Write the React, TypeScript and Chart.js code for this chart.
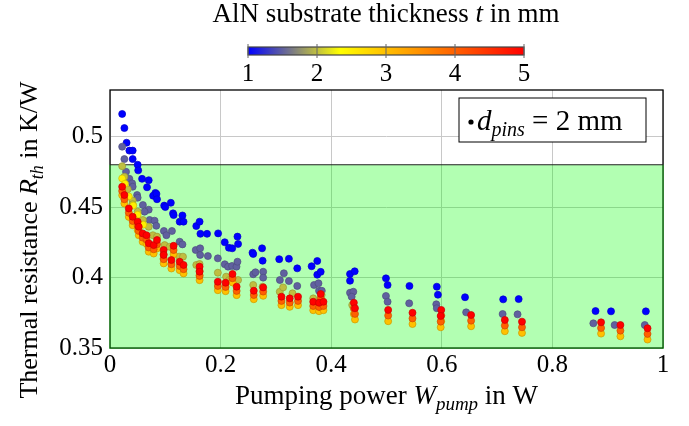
import React, { useEffect, useRef } from "react";
import { Chart, registerables } from "chart.js";

Chart.register(...registerables);

// ---- data: [pumping power W, thermal resistance K/W] per substrate thickness t ----
const thicknessValues = [1, 1.5, 2, 2.5, 3, 4, 5];

const t1Points = [
  [0.022, 0.516], [0.026, 0.506], [0.03, 0.4956], [0.035, 0.49], [0.041, 0.49], [0.041, 0.484],
  [0.05, 0.48], [0.051, 0.476], [0.058, 0.47], [0.07, 0.469], [0.067, 0.464], [0.082, 0.46],
  [0.078, 0.458], [0.084, 0.4593], [0.085, 0.4555], [0.098, 0.451], [0.1, 0.45], [0.11, 0.453],
  [0.114, 0.4455], [0.115, 0.4443], [0.126, 0.4396], [0.133, 0.4396], [0.131, 0.444], [0.156, 0.4365],
  [0.162, 0.4396], [0.1635, 0.431], [0.1755, 0.431], [0.1955, 0.4313], [0.2075, 0.425], [0.215, 0.4211],
  [0.221, 0.4207], [0.2305, 0.429], [0.2316, 0.4238], [0.2577, 0.4176], [0.259, 0.4167], [0.275, 0.4207],
  [0.276, 0.4119], [0.306, 0.413], [0.3235, 0.4133], [0.3386, 0.4065], [0.3646, 0.408], [0.3748, 0.4117],
  [0.3748, 0.402], [0.381, 0.404], [0.434, 0.4025], [0.4425, 0.4044], [0.434, 0.3977], [0.499, 0.3994],
  [0.502, 0.3947], [0.5415, 0.394], [0.591, 0.3935], [0.593, 0.3878], [0.642, 0.386], [0.711, 0.3845],
  [0.739, 0.3847], [0.878, 0.3762], [0.906, 0.376], [0.969, 0.376],
];

const t15Points = [
  [0.022, 0.4928], [0.026, 0.484], [0.029, 0.475], [0.035, 0.47], [0.04, 0.4668], [0.041, 0.4644],
  [0.049, 0.4585], [0.05, 0.4566], [0.0595, 0.4514], [0.07, 0.4481], [0.0625, 0.4467], [0.0716, 0.4408],
  [0.0806, 0.4403], [0.0837, 0.4367], [0.0975, 0.433], [0.102, 0.43], [0.112, 0.433], [0.126, 0.4254],
  [0.131, 0.4235], [0.155, 0.4195], [0.163, 0.4207], [0.163, 0.416], [0.177, 0.4152], [0.195, 0.4136],
  [0.2075, 0.4094], [0.2135, 0.4077], [0.2207, 0.4082], [0.2287, 0.4077], [0.2305, 0.4112], [0.259, 0.4023],
  [0.263, 0.4037], [0.277, 0.4041], [0.277, 0.3999], [0.3072, 0.3982], [0.3144, 0.403], [0.3235, 0.3975],
  [0.3386, 0.394], [0.369, 0.3947], [0.377, 0.3959], [0.378, 0.3906], [0.383, 0.3906], [0.434, 0.3892],
  [0.44, 0.3899], [0.437, 0.3864], [0.499, 0.3869], [0.502, 0.3828], [0.541, 0.3817], [0.59, 0.381],
  [0.591, 0.3782], [0.644, 0.3753], [0.71, 0.3741], [0.737, 0.3739], [0.874, 0.3675], [0.9125, 0.3663],
  [0.967, 0.3663],
];

const t2Points = [
  [0.022, 0.479], [0.026, 0.4715], [0.032, 0.4626], [0.041, 0.4545], [0.041, 0.452], [0.05, 0.4467],
  [0.0595, 0.4408], [0.07, 0.436], [0.0776, 0.43], [0.085, 0.429], [0.0988, 0.423], [0.108, 0.4218],
  [0.125, 0.4148], [0.132, 0.4148], [0.156, 0.4089], [0.162, 0.4096], [0.195, 0.4034], [0.21, 0.4006],
  [0.2156, 0.3982], [0.2316, 0.3982], [0.259, 0.3947], [0.276, 0.3935], [0.307, 0.3899], [0.313, 0.393],
  [0.33, 0.3888], [0.3675, 0.3852], [0.3827, 0.3876], [0.438, 0.3805],
];

const t25Points = [
  [0.022, 0.4703], [0.027, 0.4665], [0.034, 0.4575], [0.042, 0.451], [0.05, 0.4445], [0.06, 0.4375],
];

const t3Points = [
  [0.022, 0.4584], [0.026, 0.4525], [0.034, 0.443], [0.041, 0.4371], [0.05, 0.4336], [0.052, 0.43],
  [0.059, 0.4253], [0.066, 0.424], [0.07, 0.4183], [0.079, 0.417], [0.085, 0.4206], [0.097, 0.4135],
  [0.097, 0.41], [0.115, 0.4165], [0.111, 0.4064], [0.126, 0.4052], [0.133, 0.4029], [0.162, 0.4017],
  [0.162, 0.3981], [0.195, 0.391], [0.209, 0.3903], [0.2215, 0.3965], [0.229, 0.3875], [0.26, 0.3846],
  [0.277, 0.387], [0.31, 0.3804], [0.325, 0.3792], [0.34, 0.3804], [0.3675, 0.3768], [0.381, 0.3823],
  [0.378, 0.3761], [0.386, 0.3768], [0.441, 0.3741], [0.443, 0.3702], [0.503, 0.369], [0.547, 0.367],
  [0.599, 0.369], [0.598, 0.3647], [0.653, 0.3654], [0.714, 0.3619], [0.745, 0.3607], [0.888, 0.3602],
  [0.923, 0.3583], [0.972, 0.356],
];

const t4Points = [
  [0.022, 0.4614], [0.026, 0.4555], [0.034, 0.446], [0.041, 0.4401], [0.05, 0.4366], [0.052, 0.433],
  [0.059, 0.4283], [0.066, 0.427], [0.07, 0.4213], [0.079, 0.42], [0.085, 0.4236], [0.097, 0.4165],
  [0.097, 0.413], [0.115, 0.4195], [0.111, 0.4094], [0.126, 0.4082], [0.133, 0.4059], [0.162, 0.4047],
  [0.162, 0.4011], [0.195, 0.394], [0.209, 0.3933], [0.2215, 0.3995], [0.229, 0.3905], [0.26, 0.3876],
  [0.277, 0.39], [0.31, 0.3834], [0.325, 0.3822], [0.34, 0.3834], [0.3675, 0.3798], [0.381, 0.3853],
  [0.378, 0.3791], [0.386, 0.3798], [0.441, 0.3781], [0.443, 0.3742], [0.503, 0.373], [0.547, 0.371],
  [0.599, 0.373], [0.598, 0.3687], [0.653, 0.3694], [0.714, 0.3659], [0.745, 0.3647], [0.888, 0.3642],
  [0.923, 0.3623], [0.972, 0.36],
];

const t5Points = [
  [0.022, 0.4644], [0.026, 0.4585], [0.034, 0.449], [0.041, 0.4431], [0.05, 0.4396], [0.052, 0.436],
  [0.059, 0.4313], [0.066, 0.43], [0.07, 0.4243], [0.079, 0.423], [0.085, 0.4266], [0.097, 0.4195],
  [0.097, 0.416], [0.115, 0.4225], [0.111, 0.4124], [0.126, 0.4112], [0.133, 0.4089], [0.162, 0.4077],
  [0.162, 0.4041], [0.195, 0.397], [0.209, 0.3963], [0.2215, 0.4025], [0.229, 0.3935], [0.26, 0.3906],
  [0.277, 0.393], [0.31, 0.3864], [0.325, 0.3852], [0.34, 0.3864], [0.3675, 0.3828], [0.381, 0.3883],
  [0.378, 0.3821], [0.386, 0.3828], [0.441, 0.3821], [0.443, 0.3782], [0.503, 0.377], [0.547, 0.375],
  [0.599, 0.377], [0.598, 0.3727], [0.653, 0.3734], [0.714, 0.3699], [0.745, 0.3687], [0.888, 0.3682],
  [0.923, 0.3663], [0.972, 0.364],
];

const seriesPoints = [t1Points, t15Points, t2Points, t25Points, t3Points, t4Points, t5Points];

const xTickValues = [0, 0.2, 0.4, 0.6, 0.8, 1];
const xTickLabels = ["0", "0.2", "0.4", "0.6", "0.8", "1"];
const yTickValues = [0.35, 0.4, 0.45, 0.5];
const yTickLabels = ["0.35", "0.4", "0.45", "0.5"];
const colorbarTicks = [1, 2, 3, 4, 5];
const thresholdR = 0.48;

// ---- styling ----
const FONT = '"Liberation Serif", "Times New Roman", serif';
const FS = 24;
const TITLE_FS = 27;
const T_MIN = 1;
const T_MAX = 5;
const cmapStops: [number, number[]][] = [
  [0, [0, 0, 255]],
  [1 / 3, [255, 255, 0]],
  [2 / 3, [255, 128, 0]],
  [1, [255, 0, 0]],
];

function cmap(t: number, dark = 1): string {
  const f = Math.min(1, Math.max(0, (t - T_MIN) / (T_MAX - T_MIN)));
  let i = 0;
  while (i < cmapStops.length - 2 && f > cmapStops[i + 1][0]) i++;
  const [f0, c0] = cmapStops[i];
  const [f1, c1] = cmapStops[i + 1];
  const u = (f - f0) / (f1 - f0);
  const c = c0.map((v, k) => Math.round((v + (c1[k] - v) * u) * dark));
  return `rgb(${c[0]},${c[1]},${c[2]})`;
}

type Part = { text: string; italic?: boolean; sub?: boolean };

function drawRich(ctx: CanvasRenderingContext2D, parts: Part[], x: number, y: number, align: "left" | "center" | "right", size: number) {
  const fontFor = (p: Part) => `${p.italic ? "italic " : ""}${p.sub ? Math.round(size * 0.7) : size}px ${FONT}`;
  let total = 0;
  const widths = parts.map((p) => {
    ctx.font = fontFor(p);
    const w = ctx.measureText(p.text).width;
    total += w;
    return w;
  });
  let cx = align === "center" ? x - total / 2 : align === "right" ? x - total : x;
  ctx.textAlign = "left";
  ctx.textBaseline = "alphabetic";
  parts.forEach((p, i) => {
    ctx.font = fontFor(p);
    ctx.fillText(p.text, cx, y + (p.sub ? size * 0.22 : 0));
    cx += widths[i];
  });
  return total;
}

const backgroundPlugin = {
  id: "bgRegion",
  beforeDatasetsDraw(chart: any) {
    const { ctx, chartArea } = chart;
    const ys = chart.scales.y;
    const { left, right, top, bottom } = chartArea;
    ctx.save();
    ctx.strokeStyle = "#000";
    ctx.lineWidth = 1.3;
    ctx.strokeRect(left, top, right - left, bottom - top);
    const yT = ys.getPixelForValue(thresholdR);
    ctx.fillStyle = "rgba(0,255,0,0.3)";
    ctx.fillRect(left - 1, yT, right - left + 2, bottom - yT + 1);
    ctx.strokeStyle = "#222";
    ctx.lineWidth = 1.1;
    ctx.beginPath();
    ctx.moveTo(left, yT);
    ctx.lineTo(right, yT);
    ctx.stroke();
    ctx.restore();
  },
};

const annotationPlugin = {
  id: "annotations",
  afterDraw(chart: any) {
    const { ctx, chartArea } = chart;
    const { left, right } = chartArea;
    ctx.save();
    ctx.fillStyle = "#000";

    // colorbar
    const cbL = 248, cbR = 524, cbT = 47, cbB = 55;
    const grad = ctx.createLinearGradient(cbL, 0, cbR, 0);
    cmapStops.forEach(([f, c]) => grad.addColorStop(f, `rgb(${c[0]},${c[1]},${c[2]})`));
    ctx.fillStyle = grad;
    ctx.fillRect(cbL, cbT, cbR - cbL, cbB - cbT);
    ctx.strokeStyle = "#444";
    ctx.lineWidth = 1.2;
    ctx.strokeRect(cbL, cbT, cbR - cbL, cbB - cbT);
    ctx.strokeStyle = "#666";
    ctx.lineWidth = 1;
    colorbarTicks.forEach((t) => {
      const x = cbL + ((t - T_MIN) / (T_MAX - T_MIN)) * (cbR - cbL);
      ctx.beginPath();
      ctx.moveTo(x, cbT - 3);
      ctx.lineTo(x, cbB + 3);
      ctx.stroke();
    });
    ctx.fillStyle = "#000";
    ctx.font = `25px ${FONT}`;
    ctx.textAlign = "center";
    ctx.textBaseline = "alphabetic";
    colorbarTicks.forEach((t) => {
      const x = cbL + ((t - T_MIN) / (T_MAX - T_MIN)) * (cbR - cbL);
      ctx.fillText(String(t), x, 81);
    });
    drawRich(ctx, [
      { text: "AlN substrate thickness " },
      { text: "t", italic: true },
      { text: " in mm" },
    ], (cbL + cbR) / 2, 22, "center", TITLE_FS);

    // legend box
    const lx = 459, ly = 98, lw = 187, lh = 44;
    ctx.fillStyle = "#fff";
    ctx.fillRect(lx, ly, lw, lh);
    ctx.strokeStyle = "#000";
    ctx.lineWidth = 1;
    ctx.strokeRect(lx, ly, lw, lh);
    ctx.fillStyle = "#000";
    ctx.beginPath();
    ctx.arc(471, 122, 2.6, 0, Math.PI * 2);
    ctx.fill();
    drawRich(ctx, [
      { text: "d", italic: true },
      { text: "pins", italic: true, sub: true },
      { text: " = 2 mm" },
    ], 477, 130, "left", 29);

    // x-axis title
    drawRich(ctx, [
      { text: "Pumping power " },
      { text: "W", italic: true },
      { text: "pump", italic: true, sub: true },
      { text: " in W" },
    ], (left + right) / 2, 404, "center", TITLE_FS);

    // y-axis title
    ctx.translate(37, 240);
    ctx.rotate(-Math.PI / 2);
    drawRich(ctx, [
      { text: "Thermal resistance " },
      { text: "R", italic: true },
      { text: "th", italic: true, sub: true },
      { text: " in K/W" },
    ], 0, 0, "center", 26);
    ctx.restore();
  },
};

export default function App() {
  const canvasRef = useRef<HTMLCanvasElement | null>(null);

  useEffect(() => {
    document.body.style.margin = "0";
    const canvas = canvasRef.current;
    if (!canvas) return;
    const datasets = seriesPoints.map((pts, i) => ({
      label: `t = ${thicknessValues[i]} mm`,
      data: pts.map(([x, y]) => ({ x, y })),
      backgroundColor: cmap(thicknessValues[i]),
      borderColor: cmap(thicknessValues[i], 0.8),
      borderWidth: 0.7,
      pointRadius: 3.5,
      pointHoverRadius: 3.5,
    })).reverse();

    const chart = new Chart(canvas, {
      type: "scatter",
      data: { datasets },
      options: {
        animation: false,
        responsive: false,
        devicePixelRatio: 1,
        layout: { padding: { top: 90, right: 26, left: 0, bottom: 0 } },
        plugins: { legend: { display: false }, tooltip: { enabled: false } },
        scales: {
          x: {
            type: "linear",
            min: 0,
            max: 1,
            afterBuildTicks: (scale: any) => {
              scale.ticks = xTickValues.map((v) => ({ value: v }));
            },
            afterFit: (scale: any) => {
              scale.height = 78;
            },
            ticks: {
              callback: (v: any) => {
                const i = xTickValues.findIndex((t) => Math.abs(t - Number(v)) < 1e-9);
                return i >= 0 ? xTickLabels[i] : "";
              },
              font: { family: FONT, size: FS + 1 },
              color: "#000",
              padding: 2,
              maxRotation: 0,
            },
            grid: { color: "#c8c8c8", lineWidth: 1, drawTicks: false },
            border: { display: false },
          },
          y: {
            type: "linear",
            min: 0.35,
            max: 0.533,
            afterBuildTicks: (scale: any) => {
              scale.ticks = yTickValues.map((v) => ({ value: v }));
            },
            afterFit: (scale: any) => {
              scale.width = 110;
            },
            ticks: {
              callback: (v: any) => {
                const i = yTickValues.findIndex((t) => Math.abs(t - Number(v)) < 1e-9);
                return i >= 0 ? yTickLabels[i] : "";
              },
              font: { family: FONT, size: FS + 1 },
              color: "#000",
              padding: 7,
            },
            grid: { color: "#c8c8c8", lineWidth: 1, drawTicks: false },
            border: { display: false },
          },
        },
      },
      plugins: [backgroundPlugin, annotationPlugin],
    } as any);
    return () => chart.destroy();
  }, []);

  return (
    <div style={{ position: "fixed", left: 0, top: 0, width: 689, height: 426, background: "#fff" }}>
      <canvas ref={canvasRef} width={689} height={426} style={{ width: 689, height: 426, display: "block" }} />
    </div>
  );
}
